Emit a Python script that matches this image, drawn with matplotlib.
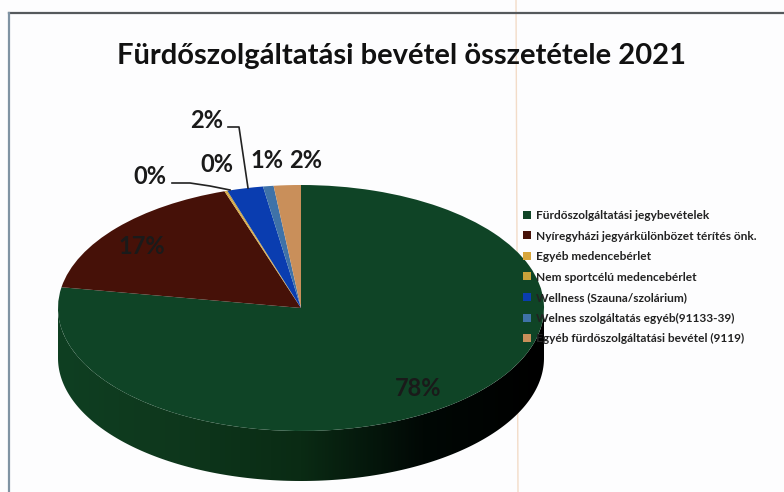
import matplotlib.pyplot as plt
import numpy as np
from matplotlib.colors import LinearSegmentedColormap
from matplotlib.patches import Polygon

title = 'Fürdőszolgáltatási bevétel összetétele 2021'
categories = [
    'Fürdőszolgáltatási jegybevételek',
    'Nyíregyházi jegyárkülönbözet térítés önk.',
    'Egyéb medencebérlet',
    'Nem sportcélú medencebérlet',
    'Wellness (Szauna/szolárium)',
    'Welnes szolgáltatás egyéb(91133-39)',
    'Egyéb fürdőszolgáltatási bevétel (9119)',
]
values = [77.7, 17.2, 0.1, 0.1, 2.4, 0.7, 1.8]
colors = ['#0f4426', '#461108', '#d8a63c', '#c9a23a', '#0a3db0', '#3f72a8', '#c98f5a']

W, H = 784, 492
cx, cy, rx, ry, depth = 301, 308, 243, 123, 50

plt.rcParams['font.family'] = ['Lato', 'DejaVu Sans']
fig = plt.figure(figsize=(W / 100, H / 100), dpi=100, facecolor='#fdfdfe')

# back layer in pixel coordinates: scan frame and fold line
bg = fig.add_axes([0, 0, 1, 1], facecolor='none')
bg.set_xlim(0, W)
bg.set_ylim(H, 0)
bg.axis('off')
bg.plot([516, 518], [0, 492], color='#f3dcc8', lw=1)
bg.plot([9, 784], [13, 13], color='#55595c', lw=1.6)
bg.plot([9, 9], [13, 492], color='#7f93a3', lw=1.6)

# pie axes: one data unit is one radius, so the circle comes out as an ellipse
ax = fig.add_axes([0, 0, 1, 1], facecolor='none')
wedges, _ = ax.pie(values, colors=colors, startangle=90, counterclock=False,
                   radius=1, wedgeprops={'linewidth': 0, 'zorder': 3})
d = depth / ry
t = np.linspace(np.pi, 2 * np.pi, 200)
wall = np.vstack([np.c_[np.cos(t), np.sin(t)],
                  np.c_[np.cos(t[::-1]), np.sin(t[::-1]) - d]])
side = Polygon(wall, closed=True, transform=ax.transData, fc='none', ec='none')
ax.add_patch(side)
cmap = LinearSegmentedColormap.from_list('wall', ['#0f3f22', '#0e371c', '#0a2b14', '#010805', '#000000'])
img = ax.imshow(np.linspace(0, 1, 256)[None, :], cmap=cmap, extent=[-1, 1, -1 - d, 0],
                aspect='auto', zorder=2)
img.set_clip_path(side)
ax.set_aspect('auto')
ax.set_xlim(-cx / rx, (W - cx) / rx)
ax.set_ylim((cy - H) / ry, cy / ry)
ax.axis('off')

# front layer in pixel coordinates for the labels and legend
ov = fig.add_axes([0, 0, 1, 1], facecolor='none')
ov.set_xlim(0, W)
ov.set_ylim(H, 0)
ov.axis('off')

ov.text(402, 56, title, fontsize=21, fontweight='bold', color='#111111', ha='center', va='center')

label_pos = [(418, 388), (142, 247), (150, 176), (217, 164), (207, 120), (267, 161), (306, 161)]
for v, (x, y) in zip(values, label_pos):
    ov.text(x, y, f'{v:.0f}%', fontsize=17, fontweight='bold', color='#1a1a1a', ha='center', va='center')

ov.plot([228, 239, 248], [127, 127, 188], color='#222222', lw=1.2)
ov.plot([172, 190, 210, 230], [183, 183, 186, 190], color='#222222', lw=1.2)

ov.legend(wedges, categories, loc='upper left', bbox_to_anchor=(523 / W, 1 - 210 / H),
          bbox_transform=fig.transFigure, frameon=False,
          labelcolor='#222222', handlelength=0.65, handleheight=0.65,
          handletextpad=0.4, labelspacing=0.8, borderpad=0, borderaxespad=0,
          prop={'weight': 'bold', 'size': 8.6})

fig.savefig('out.png', dpi=100, facecolor=fig.get_facecolor())
